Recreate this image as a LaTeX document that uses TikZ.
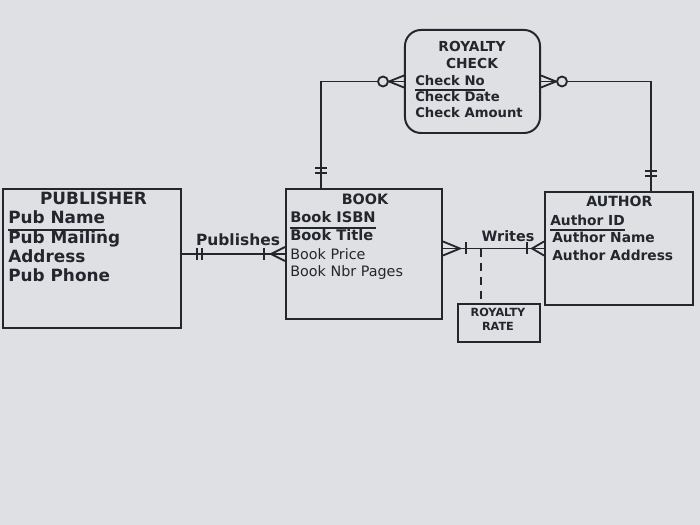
\documentclass[tikz,border=0pt]{standalone}
\usepackage{fontspec}
\setmainfont{DejaVu Sans}
\usepackage{xcolor}
\usepackage{tikz}
\usetikzlibrary{positioning,calc}
\definecolor{paperGray}{RGB}{222,224,228}
\definecolor{inkDark}{RGB}{35,38,45}

\begin{document}
\begin{tikzpicture}[
    x=0.025cm, y=-0.025cm,
    entity/.style={rectangle, draw=inkDark, line width=1.4pt},
    title/.style={anchor=base, inner sep=0pt, text=inkDark, font=\fontsize{#1}{#1}\selectfont\bfseries},
    attr/.style={anchor=base west, inner sep=0pt, text=inkDark, font=\fontsize{#1}{#1}\selectfont\bfseries},
    plain/.style={anchor=base west, inner sep=0pt, text=inkDark, font=\fontsize{#1}{#1}\selectfont},
    link/.style={draw=inkDark, line width=1.3pt},
    pkline/.style={draw=inkDark, line width=1.1pt}
]
\fill[paperGray] (0,0) rectangle (700,525);
\useasboundingbox (0,0) rectangle (700,525);

% entities
\node[entity, minimum width=4.45cm, minimum height=3.475cm] (publisher) at (92,258.5) {};
\node[entity, minimum width=3.9cm, minimum height=3.25cm] (book) at (364,254) {};
\node[entity, minimum width=3.7cm, minimum height=2.825cm] (author) at (619,248.5) {};
\node[entity, rounded corners=0.4cm, minimum width=3.375cm, minimum height=2.575cm] (check) at (472.5,81.5) {};
\node[entity, minimum width=2.05cm, minimum height=0.95cm] (rate) at (499,323) {};

% publisher text
\node[title=12] (pubTitle) at (93.5,205) {PUBLISHER};
\node[attr=12] (pubName) at (8,224) {Pub Name};
\node[attr=12] (pubMail) at (8,244) {Pub Mailing};
\node[attr=12] (pubAddr) at (8,263) {Address};
\node[attr=12] (pubPhone) at (8,282) {Pub Phone};
\draw[pkline] ($(pubName.base west)+(0,6)$) -- ($(pubName.base east)+(0,6)$);

% book text
\node[title=10.2] (bookTitle) at (365,205) {BOOK};
\node[attr=10.4] (bookIsbn) at (290,223) {Book ISBN};
\node[attr=10.4] (bookName) at (290,241) {Book Title};
\node[plain=10.2] (bookPrice) at (290,260) {Book Price};
\node[plain=10.2] (bookPages) at (290,277) {Book Nbr Pages};
\draw[pkline] ($(bookIsbn.base west)+(0,5)$) -- ($(bookIsbn.base east)+(0,5)$);

% author text
\node[title=10] (authTitle) at (619.5,207) {AUTHOR};
\node[attr=9.8] (authId) at (550,226) {Author ID};
\node[attr=9.8] (authName) at (552,243) {Author Name};
\node[attr=9.8] (authAddr) at (552,261) {Author Address};
\draw[pkline] ($(authId.base west)+(0,4)$) -- ($(authId.base east)+(0,4)$);

% royalty check text
\node[title=9.8] (chkTitleA) at (472,52) {ROYALTY};
\node[title=9.8] (chkTitleB) at (472,69) {CHECK};
\node[attr=9.4] (chkNo) at (415,86) {Check No};
\node[attr=9.4] (chkDate) at (415,102) {Check Date};
\node[attr=9.4] (chkAmt) at (415,118) {Check Amount};
\draw[pkline] ($(chkNo.base west)+(0,4)$) -- ($(chkNo.base east)+(0,4)$);

% royalty rate text
\node[title=8] (rateA) at (498,317) {ROYALTY};
\node[title=8] (rateB) at (498,331) {RATE};

% publishes
\draw[link] (publisher.east |- book.west) -- (book.west);
\draw[link] ($(book.west)+(-88,-6)$) -- ++(0,12);
\draw[link] ($(book.west)+(-83,-6)$) -- ++(0,12);
\draw[link] ($(book.west)+(-21,-6)$) -- ++(0,12);
\draw[link] ($(book.west)+(0,-7)$) -- ($(book.west)+(-14,0)$) -- ($(book.west)+(0,7)$);
\node[title=11] (pubLabel) at (238,246) {Publishes};

% writes
\coordinate (bookW) at (book.east |- author.west);
\draw[link] (bookW) -- (author.west);
\draw[link] ($(bookW)+(0,-7)$) -- ($(bookW)+(17,0)$) -- ($(bookW)+(0,7)$);
\draw[link] ($(bookW)+(23,-6)$) -- ++(0,12);
\draw[link] ($(author.west)+(-17,-6)$) -- ++(0,12);
\draw[link] ($(author.west)+(0,-7)$) -- ($(author.west)+(-12,0)$) -- ($(author.west)+(0,7)$);
\node[title=10.2] (writesLabel) at (508,242) {Writes};
\coordinate (rateJoin) at ($(author.west)+(-63,0)$);
\draw[link, dashed, dash pattern=on 6pt off 4pt] (rateJoin) -- (rateJoin |- rate.north);

% book to royalty check
\coordinate (bookTop) at ($(book.north west)+(36,0)$);
\draw[link] (bookTop) |- (check.west);
\draw[link] ($(bookTop)+(-6,-20)$) -- ++(12,0);
\draw[link] ($(bookTop)+(-6,-15)$) -- ++(12,0);
\draw[link] ($(check.west)+(0,-6)$) -- ($(check.west)+(-15,0)$) -- ($(check.west)+(0,6)$);
\draw[link, fill=paperGray] ($(check.west)+(-21,0)$) circle (5);

% author to royalty check
\coordinate (authTop) at ($(author.north west)+(107,0)$);
\draw[link] (authTop) |- (check.east);
\draw[link] ($(authTop)+(-6,-20)$) -- ++(12,0);
\draw[link] ($(authTop)+(-6,-15)$) -- ++(12,0);
\draw[link] ($(check.east)+(0,-6)$) -- ($(check.east)+(15,0)$) -- ($(check.east)+(0,6)$);
\draw[link, fill=paperGray] ($(check.east)+(21,0)$) circle (5);
\end{tikzpicture}
\end{document}
